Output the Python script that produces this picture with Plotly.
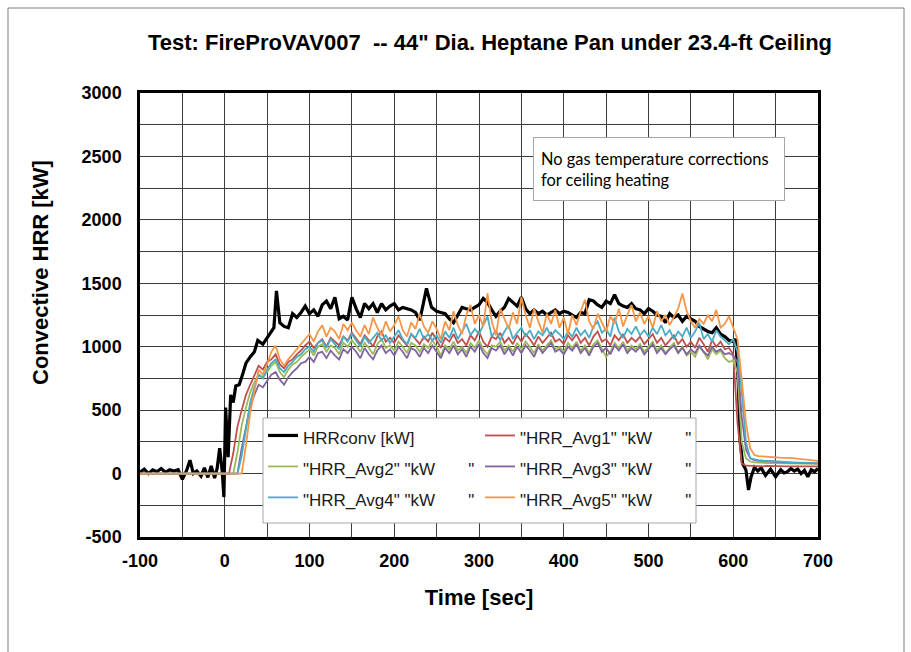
import plotly.graph_objects as go

# ---------------- data ----------------
TIME_CONV = [-100, -95, -90, -85, -80, -75, -70, -65, -60, -55, -50, -45, -41, -37, -33, -28, -24, -20, -16, -12,
             -9, -6, -3, -1, 1, 4, 7, 10, 13, 17, 21, 25, 30, 35, 39, 45, 50, 54, 58, 61,
             65, 70, 75, 80, 85, 90, 95, 100, 105, 110, 115, 120, 125, 130, 135, 140, 145, 150, 155, 160,
             165, 170, 175, 180, 185, 190, 195, 200, 205, 210, 215, 220, 225, 230, 234, 238, 244, 250, 255, 260,
             265, 270, 275, 280, 285, 290, 295, 300, 305, 310, 315, 320, 325, 330, 335, 340, 345, 350, 355, 360,
             365, 370, 375, 380, 385, 390, 395, 400, 405, 410, 415, 420, 425, 430, 435, 440, 445, 450, 455, 460,
             465, 470, 475, 480, 485, 490, 495, 500, 505, 510, 515, 520, 525, 530, 535, 540, 545, 550, 555, 560,
             565, 570, 575, 580, 585, 590, 595, 600, 603, 606, 608, 611, 615, 618, 621, 625, 629, 633, 638, 644,
             650, 656, 660, 664, 668, 672, 676, 680, 684, 688, 692, 696, 700]
HRR_CONV = [10, 35, 0, 30, 15, 40, 10, 30, 20, 30, -45, 25, 105, 0, 20, -20, 45, -30, 60, -35,
            40, 200, 20, -185, 520, 130, 620, 560, 690, 700, 780, 870, 920, 960, 1050, 1020, 1070, 1110, 1150, 1440,
            1190, 1160, 1150, 1260, 1230, 1270, 1320, 1260, 1290, 1240, 1330, 1360, 1300, 1390, 1220, 1240, 1210, 1390, 1300, 1230,
            1340, 1300, 1340, 1270, 1340, 1290, 1320, 1340, 1290, 1310, 1300, 1290, 1270, 1210, 1330, 1460, 1310, 1280, 1270, 1260,
            1220, 1190, 1250, 1310, 1300, 1290, 1310, 1330, 1380, 1350, 1290, 1240, 1280, 1310, 1380, 1350, 1320, 1390, 1300, 1260,
            1290, 1260, 1280, 1250, 1270, 1290, 1260, 1280, 1270, 1250, 1230, 1270, 1260, 1370, 1360, 1330, 1310, 1360, 1340, 1410,
            1340, 1320, 1310, 1340, 1300, 1290, 1260, 1300, 1280, 1250, 1240, 1190, 1260, 1230, 1250, 1200, 1240, 1220, 1200, 1160,
            1140, 1120, 1110, 1150, 1100, 1080, 1050, 1040, 1060, 710, 265, 80, 27, -130, -26, 50, 20, 45, -15, 35,
            -25, 30, 5, 15, 40, 20, 35, 0, 25, -25, 30, 15, 40]

TIME_AVG = [-100, 0, 5, 10, 15, 20, 25, 30, 35, 40, 45,
            50, 55, 60, 65, 70, 75, 80, 85, 90, 95,
            100, 105, 110, 115, 120, 125, 130, 135, 140, 145,
            150, 155, 160, 165, 170, 175, 180, 185, 190, 195,
            200, 205, 210, 215, 220, 225, 230, 235, 240, 245,
            250, 255, 260, 265, 270, 275, 280, 285, 290, 295,
            300, 305, 310, 315, 320, 325, 330, 335, 340, 345,
            350, 355, 360, 365, 370, 375, 380, 385, 390, 395,
            400, 405, 410, 415, 420, 425, 430, 435, 440, 445,
            450, 455, 460, 465, 470, 475, 480, 485, 490, 495,
            500, 505, 510, 515, 520, 525, 530, 535, 540, 545,
            550, 555, 560, 565, 570, 575, 580, 585, 590, 595,
            600, 605, 610, 615, 620, 625, 630, 635, 640, 645,
            650, 655, 660, 665, 670, 675, 680, 685, 690, 695, 700]

HRR_AVG1 = [0, 0, 0, 160, 370, 500, 620, 700, 780, 850, 820,
            880, 900, 940, 860, 830, 880, 900, 940, 970, 1010,
            1040, 990, 1030, 1060, 1000, 1070, 1040, 1010, 1080, 1050,
            1110, 1060, 1020, 1090, 1050, 1000, 1080, 1120, 1040, 1070,
            1030, 1090, 1050, 1010, 1100, 1060, 1020, 1080, 1040, 1110,
            1050, 990, 1070, 1040, 1100, 1030, 1060, 1010, 1090, 1050,
            1120, 1040, 1000, 1080, 1060, 1110, 1030, 1070, 1020, 1090,
            1040, 1100, 1060, 1010, 1080, 1030, 1070, 1110, 1040, 1060,
            1020, 1090, 1050, 1100, 1030, 1070, 1010, 1080, 1120, 1040,
            1060, 1010, 1090, 1050, 1100, 1030, 1070, 1040, 1080, 1020,
            1060, 1100, 1030, 1070, 1010, 1050, 1090, 1020, 1060, 1000,
            1040, 990, 1070, 1020, 960, 1050, 1000, 1040, 980, 990,
            940, 400, 80, 62, 60, 58, 60, 57, 60, 58,
            58, 57, 58, 56, 57, 58, 56, 57, 56, 57, 56]

HRR_AVG2 = [0, 0, 0, 0, 170, 380, 520, 640, 720, 780, 760,
            800, 850, 880, 800, 760, 820, 860, 880, 920, 950,
            980, 930, 1000, 1020, 960, 1010, 990, 940, 1030, 1000,
            1050, 1010, 960, 1030, 990, 940, 1020, 1060, 990, 1010,
            970, 1040, 1000, 950, 1030, 1010, 960, 1020, 990, 1050,
            1000, 930, 1010, 980, 1040, 970, 1000, 950, 1030, 990,
            1050, 980, 940, 1010, 1000, 1040, 970, 1010, 960, 1030,
            980, 1040, 1000, 950, 1020, 970, 1010, 1050, 980, 1000,
            960, 1030, 990, 1040, 970, 1010, 950, 1020, 1050, 980,
            920, 960, 1030, 990, 1040, 970, 1010, 980, 1020, 960,
            1000, 1040, 970, 1010, 950, 990, 1030, 960, 1000, 930,
            960, 920, 1000, 960, 900, 980, 940, 970, 910, 880,
            890, 800, 250, 120, 95, 88, 85, 84, 83, 82,
            82, 81, 80, 80, 79, 79, 78, 78, 78, 77, 77]

HRR_AVG3 = [0, 0, 0, 0, 0, 200, 380, 530, 620, 700, 680,
            730, 780, 800, 740, 700, 760, 800, 830, 870, 880,
            920, 880, 950, 960, 910, 970, 930, 900, 980, 950,
            1000, 960, 910, 990, 940, 900, 970, 1010, 950, 980,
            930, 1000, 960, 910, 990, 970, 920, 990, 950, 1010,
            960, 910, 990, 950, 1010, 940, 980, 920, 1000, 960,
            1020, 950, 910, 990, 970, 1010, 940, 990, 930, 1000,
            950, 1010, 970, 920, 1000, 950, 990, 1030, 960, 980,
            940, 1000, 970, 1020, 950, 990, 930, 1000, 1030, 960,
            990, 940, 1010, 970, 1020, 950, 990, 960, 1000, 940,
            980, 1020, 950, 990, 940, 980, 1010, 950, 990, 940,
            980, 950, 1010, 960, 930, 1000, 960, 980, 940, 950,
            930, 880, 450, 190, 120, 105, 100, 97, 95, 93,
            91, 90, 88, 87, 86, 85, 84, 83, 82, 82, 81]

HRR_AVG4 = [0, 0, 0, 0, 0, 140, 360, 560, 680, 780, 750,
            820, 870, 900, 830, 800, 850, 880, 920, 940, 980,
            1000, 960, 1030, 1050, 990, 1060, 1020, 980, 1080, 1040,
            1100, 1050, 1000, 1080, 1030, 1070, 1110, 1050, 1090, 1030,
            1080, 1130, 1060, 1020, 1100, 1070, 1140, 1060, 1100, 1050,
            1090, 1030, 1120, 1070, 1150, 1060, 1120, 1180, 1090, 1140,
            1100, 1170, 1240, 1080, 1130, 1050, 1120, 1170, 1060, 1110,
            1150, 1080, 1130, 1060, 1120, 1090, 1150, 1080, 1130, 1100,
            1060, 1120, 1080, 1150, 1090, 1130, 1070, 1160, 1200, 1110,
            1140, 1080, 1230, 1120, 1070, 1140, 1100, 1160, 1090, 1130,
            1080, 1150, 1100, 1170, 1090, 1130, 1060, 1120, 1080, 1150,
            1070, 1120, 1190, 1060, 1100, 1040, 1130, 1080, 1050, 1020,
            1060, 960, 650, 250, 120, 110, 106, 103, 100, 97,
            95, 93, 91, 90, 88, 87, 86, 85, 84, 84, 83]

HRR_AVG5 = [0, 0, 0, 0, 0, 0, 220, 480, 650, 820, 780,
            860, 960, 1010, 900, 850, 900, 940, 980, 1020, 1060,
            1100, 1040, 1120, 1170, 1080, 1150, 1120, 1060, 1180, 1130,
            1190, 1130, 1080, 1170, 1100, 1230, 1150, 1090, 1200, 1120,
            1170, 1240, 1130, 1080, 1190, 1140, 1260, 1160, 1110, 1200,
            1140, 1060, 1200, 1130, 1280, 1170, 1100, 1250, 1330, 1180,
            1250, 1160, 1420, 1200, 1090, 1300, 1220, 1140, 1270, 1180,
            1390, 1250, 1150, 1300, 1200, 1110, 1260, 1180, 1290, 1150,
            1230, 1100, 1250, 1170, 1280, 1370, 1200, 1140, 1260, 1190,
            1120, 1240, 1180, 1300, 1160, 1250, 1330, 1200, 1270, 1180,
            1240, 1150, 1280, 1200, 1250, 1170, 1230, 1300, 1420, 1280,
            1200, 1150, 1220, 1180, 1250, 1200, 1290, 1150, 1180, 1240,
            1150, 1060, 740, 400, 200, 145, 138, 134, 132, 130,
            128, 125, 125, 120, 122, 118, 115, 112, 108, 105, 100]

PAD = "\u00a0" * 7
SERIES_NAMES = ["HRRconv [kW]",
                "\"HRR_Avg1\" \"kW" + PAD + "\"",
                "\"HRR_Avg2\" \"kW" + PAD + "\"",
                "\"HRR_Avg3\" \"kW" + PAD + "\"",
                "\"HRR_Avg4\" \"kW" + PAD + "\"",
                "\"HRR_Avg5\" \"kW" + PAD + "\""]
COLORS = ["#000000", "#C0504D", "#9BBB59", "#8064A2", "#4BACC6", "#F79646"]
# legend column for each series (Excel fills the 2-column legend row by row)
LEGEND_COL = ["legend", "legend2", "legend", "legend2", "legend", "legend2"]

X_TICKS = [-100, 0, 100, 200, 300, 400, 500, 600, 700]
Y_TICKS = [-500, 0, 500, 1000, 1500, 2000, 2500, 3000]

TITLE = "Test: FireProVAV007\u00a0 -- 44\" Dia. Heptane Pan under 23.4-ft Ceiling"
X_TITLE = "Time [sec]"
Y_TITLE = "Convective HRR [kW]"
NOTE = "No gas temperature corrections<br>for ceiling heating"

FONT = "Liberation Sans, Arial, sans-serif"

# ---------------- figure ----------------
fig = go.Figure()
all_series = [HRR_CONV, HRR_AVG1, HRR_AVG2, HRR_AVG3, HRR_AVG4, HRR_AVG5]
all_times = [TIME_CONV] + [TIME_AVG] * 5

for i, ys in enumerate(all_series):
    fig.add_trace(go.Scatter(x=all_times[i], y=ys, mode="lines",
                             name="<span style='font-size:17px'>" + SERIES_NAMES[i] + "</span>",
                             legend=LEGEND_COL[i],
                             line=dict(color=COLORS[i], width=3.2 if i == 0 else 1.8)))

L, R, T, B = 140, 93, 93, 115
W, H = 911, 652
pw, ph = W - L - R, H - T - B

def px_x(p):
    return (p - L) / pw

def px_y(p):
    return (H - B - p) / ph

legend_common = dict(orientation="v", xanchor="left", yanchor="top",
                     bgcolor="rgba(0,0,0,0)", borderwidth=0,
                     font=dict(size=21.5, family=FONT, color="#1a1a1a"),
                     itemwidth=30, traceorder="normal")

fig.update_layout(
    width=W, height=H,
    margin=dict(l=L, r=R, t=T, b=B, pad=0),
    paper_bgcolor="white", plot_bgcolor="white",
    font=dict(family=FONT, color="#000000"),
    title=dict(text="<b>" + TITLE + "</b>", x=490 / W, xanchor="center",
               y=(H - 42) / H, yanchor="middle", yref="container",
               font=dict(size=22, family=FONT, color="#000000")),
    showlegend=True,
    legend=dict(x=px_x(263), y=px_y(415), **legend_common),
    legend2=dict(x=px_x(480), y=px_y(415), **legend_common),
    xaxis=dict(range=[-100, 700], tickvals=X_TICKS, ticktext=[str(v) for v in X_TICKS],
               showgrid=True, gridcolor="#3c3c3c", gridwidth=1,
               minor=dict(dtick=50, tick0=0, showgrid=True, gridcolor="#3c3c3c", gridwidth=1),
               zeroline=False, showline=True, linecolor="#000000", linewidth=2.5, mirror=True,
               ticks="outside", ticklen=6, tickcolor="rgba(0,0,0,0)",
               tickfont=dict(size=18, family=FONT, color="#000000", weight="bold"),
               title=dict(text="<b>" + X_TITLE + "</b>", standoff=20,
                          font=dict(size=22, family=FONT, color="#000000"))),
    yaxis=dict(range=[-500, 3000], tickvals=Y_TICKS, ticktext=[str(v) for v in Y_TICKS],
               showgrid=True, gridcolor="#3c3c3c", gridwidth=1,
               minor=dict(dtick=250, tick0=0, showgrid=True, gridcolor="#3c3c3c", gridwidth=1),
               zeroline=False, showline=True, linecolor="#000000", linewidth=2.5, mirror=True,
               ticks="outside", ticklen=12, tickcolor="rgba(0,0,0,0)",
               tickfont=dict(size=18, family=FONT, color="#000000", weight="bold")),
    annotations=[
        dict(text="<b>" + Y_TITLE + "</b>", xref="paper", yref="paper",
             x=px_x(40), y=px_y(273), xanchor="center", yanchor="middle",
             textangle=-90, showarrow=False,
             font=dict(size=22, family=FONT, color="#000000")),
        dict(text=NOTE, xref="paper", yref="paper",
             x=px_x(533), y=px_y(137), xanchor="left", yanchor="top",
             showarrow=False, align="left", valign="middle",
             width=236, height=48, borderpad=7,
             bgcolor="white", bordercolor="#a6a6a6", borderwidth=1,
             font=dict(size=16.4, family="Lato, Carlito, sans-serif", color="#000000"))],
    shapes=[
        # legend frame (white box behind the two legend columns)
        dict(type="rect", xref="paper", yref="paper", layer="above",
             x0=px_x(263), x1=px_x(696), y0=px_y(523), y1=px_y(418),
             line=dict(color="#a6a6a6", width=1), fillcolor="white"),
        # outer chart-area border
        dict(type="rect", xref="paper", yref="paper", layer="above",
             x0=px_x(8), x1=px_x(904), y0=px_y(680), y1=px_y(8),
             line=dict(color="#7f7f7f", width=1), fillcolor="rgba(0,0,0,0)")],
)

fig.write_html("out.html")
